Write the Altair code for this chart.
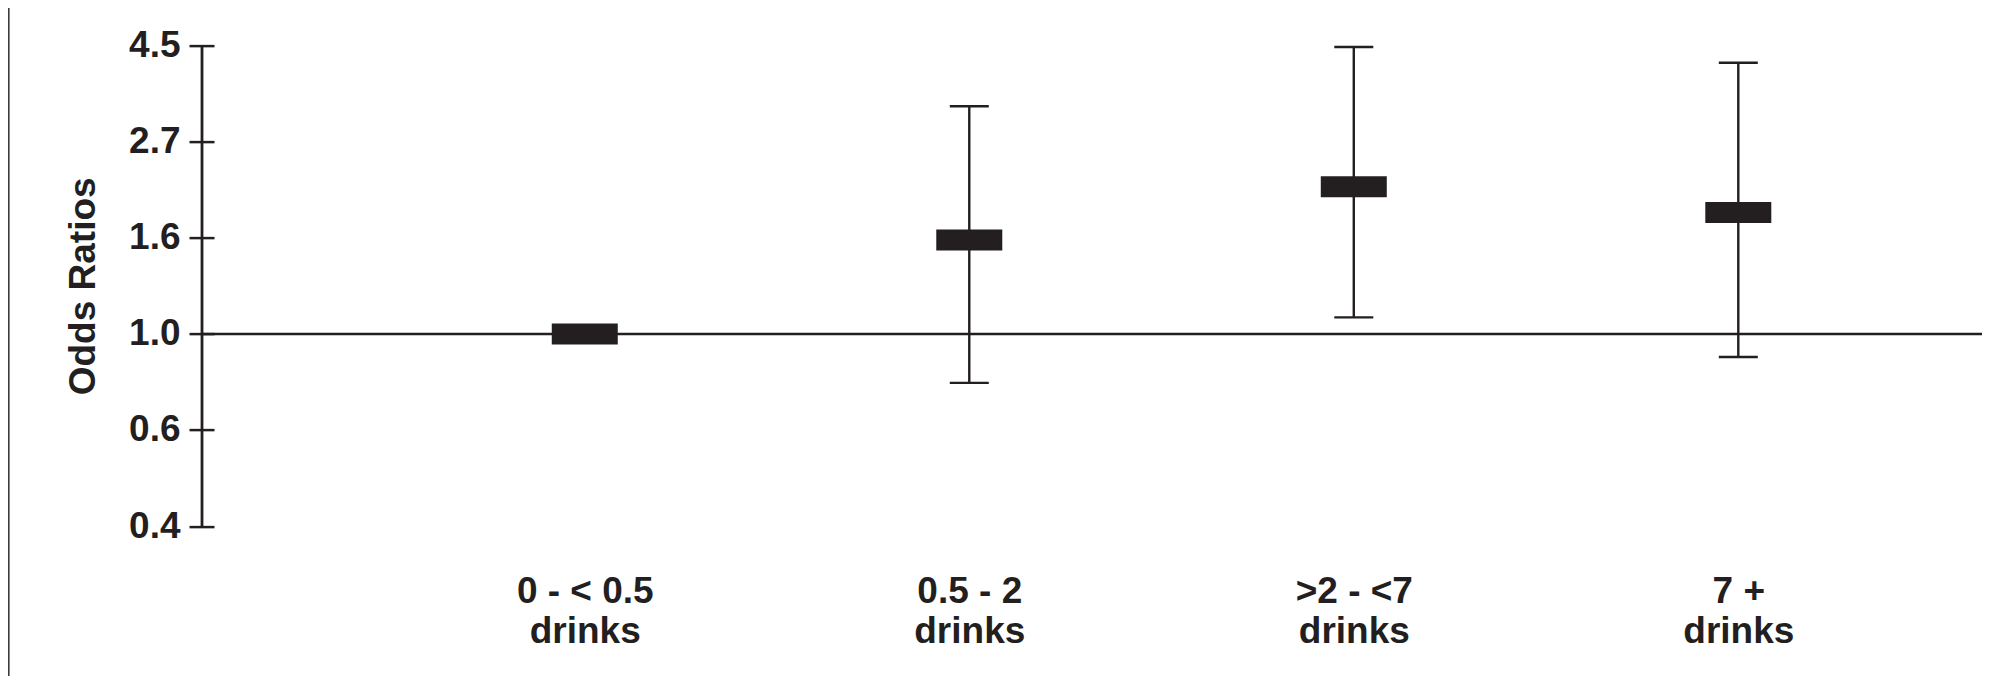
import math
import altair as alt
import pandas as pd

# ---- data ----
categories = ["0 - < 0.5|drinks", "0.5 - 2|drinks", ">2 - <7|drinks", "7 +|drinks"]
odds_ratio = [1.0, 1.63, 2.15, 1.88]
ci_lower = [None, 0.775, 1.09, 0.887]
ci_upper = [None, 3.27, 4.45, 4.10]
# ticks lie at e^(k/2), labelled with one decimal
y_tick_values = [math.exp(k / 2) for k in range(-2, 4)]
reference_value = [1.0]

df = pd.DataFrame({"cat": categories, "or": odds_ratio, "lo": ci_lower, "hi": ci_upper})
df_ci = df.dropna()
df_ref = pd.DataFrame({"ref": reference_value})
df_axis = pd.DataFrame({"top": [y_tick_values[-1]], "bottom": [y_tick_values[0]]})

INK = "#231f20"
FONT = "Liberation Sans"
W, H = 1768, 480.5

xscale = alt.Scale(type="point", domain=categories, padding=0.799, align=0.6034)
yscale = alt.Scale(type="log", domain=[y_tick_values[0], y_tick_values[-1]], nice=False, zero=False)

xenc = alt.X(
    "cat:N", scale=xscale, sort=categories, title=None,
    axis=alt.Axis(
        domain=False, ticks=False, grid=False, labelAngle=0, labelAlign="center",
        labelExpr="split(datum.label, '|')",
        labelFont=FONT, labelFontWeight="bold", labelFontSize=37, labelColor=INK,
        labelPadding=65, labelLineHeight=40,
    ),
)

yaxis = alt.Axis(
    values=y_tick_values, format=".1f", domain=False, grid=False,
    tickSize=25, tickWidth=2.5, tickColor=INK,
    labelFont=FONT, labelFontWeight="bold", labelFontSize=37, labelColor=INK,
    labelPadding=9,
    title="Odds Ratios", titleFont=FONT, titleFontWeight="bold", titleFontSize=37,
    titleColor=INK, titleAngle=-90, titleBaseline="middle", titleAlign="center",
    titleX=-131, titleY=H / 2,
)

boxes = alt.Chart(df).mark_tick(color=INK, thickness=21, size=66, opacity=1).encode(
    x=xenc,
    y=alt.Y("or:Q", scale=yscale, axis=yaxis),
)

whisk = alt.Chart(df_ci).mark_rule(color=INK, strokeWidth=2.4).encode(
    x=alt.X("cat:N", scale=xscale, sort=categories),
    y=alt.Y("lo:Q", scale=yscale),
    y2="hi:Q",
)
cap_hi = alt.Chart(df_ci).mark_tick(color=INK, thickness=2.4, size=39, opacity=1).encode(
    x=alt.X("cat:N", scale=xscale, sort=categories),
    y=alt.Y("hi:Q", scale=yscale),
)
cap_lo = alt.Chart(df_ci).mark_tick(color=INK, thickness=2.4, size=39, opacity=1).encode(
    x=alt.X("cat:N", scale=xscale, sort=categories),
    y=alt.Y("lo:Q", scale=yscale),
)

ref = alt.Chart(df_ref).mark_rule(color=INK, strokeWidth=2.5, clip=False).encode(
    y=alt.Y("ref:Q", scale=yscale),
    x=alt.value(-12), x2=alt.value(W),
)

axis_line = alt.Chart(df_axis).mark_rule(color=INK, strokeWidth=2.8, clip=False).encode(
    x=alt.value(-12),
    y=alt.Y("top:Q", scale=yscale),
    y2="bottom:Q",
)

edge = alt.Chart(df_axis).mark_rule(color="#3a3a3a", strokeWidth=1.6, clip=False).encode(
    x=alt.value(-205.2), y=alt.value(-40), y2=alt.value(H + 160),
)

chart = alt.layer(ref, whisk, cap_hi, cap_lo, boxes, axis_line, edge).properties(
    width=W, height=H,
    background="white",
    autosize=alt.AutoSizeParams(type="none"),
    padding={"left": 206, "top": 37.6, "right": 0, "bottom": 150},
).configure_view(stroke=None, strokeWidth=0).configure_axis(grid=False)

chart.save("out.html", embed_options={"renderer": "svg", "actions": False})
